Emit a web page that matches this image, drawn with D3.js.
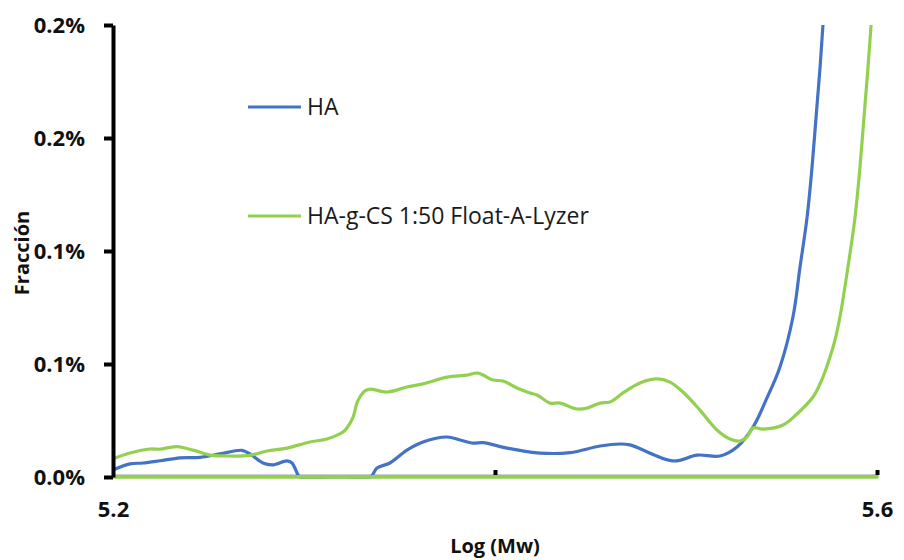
<!DOCTYPE html>
<html>
<head>
<meta charset="utf-8">
<script src="https://cdn.jsdelivr.net/npm/d3@7"></script>
<style>
  html, body { margin: 0; padding: 0; background: #fff; }
  svg { display: block; font-family: "Open Sans", "DejaVu Sans", sans-serif; }
</style>
</head>
<body>
<svg id="chart" width="904" height="560"></svg>
<script>
// Molecular-weight distribution: fraction (%) versus Log(Mw)
const logMwHA = [5.2000, 5.2089, 5.2157, 5.2246, 5.2351, 5.2455, 5.2560, 5.2675, 5.2717, 5.2785,
  5.2838, 5.2911, 5.2937, 5.2969, 5.2979, 5.3346, 5.3382, 5.3450, 5.3539, 5.3623,
  5.3749, 5.3817, 5.3885, 5.3937, 5.4063, 5.4236, 5.4393, 5.4550, 5.4654, 5.4707,
  5.4932, 5.5058, 5.5178, 5.5267, 5.5351, 5.5424, 5.5492, 5.5560, 5.5597, 5.5634,
  5.5660, 5.5681, 5.5702, 5.5717, 5.5730];
const fracHA = [0.0031, 0.0058, 0.0062, 0.0072, 0.0085, 0.0087, 0.0102, 0.0118, 0.0102, 0.0062,
  0.0054, 0.0071, 0.0062, 0.0009, 0.0000, 0.0000, 0.0040, 0.0062, 0.0119, 0.0155,
  0.0177, 0.0164, 0.0150, 0.0152, 0.0128, 0.0106, 0.0108, 0.0137, 0.0146, 0.0142,
  0.0071, 0.0097, 0.0093, 0.0133, 0.0221, 0.0350, 0.0487, 0.0708, 0.0929, 0.1150,
  0.1372, 0.1593, 0.1814, 0.2000, 0.2150];

const logMwCS = [5.2000, 5.2089, 5.2194, 5.2246, 5.2298, 5.2335, 5.2419, 5.2508, 5.2597, 5.2717,
  5.2806, 5.2911, 5.3031, 5.3120, 5.3204, 5.3225, 5.3257, 5.3277, 5.3293, 5.3319,
  5.3346, 5.3435, 5.3539, 5.3623, 5.3749, 5.3853, 5.3911, 5.3990, 5.4042, 5.4115,
  5.4183, 5.4220, 5.4288, 5.4340, 5.4429, 5.4482, 5.4550, 5.4602, 5.4670, 5.4759,
  5.4848, 5.4916, 5.4984, 5.5073, 5.5162, 5.5230, 5.5283, 5.5319, 5.5351, 5.5403,
  5.5508, 5.5581, 5.5665, 5.5717, 5.5754, 5.5780, 5.5806, 5.5848, 5.5885, 5.5911,
  5.5932, 5.5953, 5.5969, 5.5980];
const fracCS = [0.0081, 0.0106, 0.0124, 0.0123, 0.0131, 0.0134, 0.0119, 0.0097, 0.0093, 0.0096,
  0.0115, 0.0128, 0.0155, 0.0168, 0.0199, 0.0217, 0.0265, 0.0327, 0.0354, 0.0381,
  0.0389, 0.0376, 0.0398, 0.0412, 0.0442, 0.0451, 0.0460, 0.0429, 0.0425, 0.0394,
  0.0372, 0.0363, 0.0327, 0.0327, 0.0301, 0.0305, 0.0327, 0.0332, 0.0372, 0.0416,
  0.0434, 0.0420, 0.0376, 0.0296, 0.0208, 0.0168, 0.0159, 0.0177, 0.0217, 0.0212,
  0.0230, 0.0279, 0.0354, 0.0442, 0.0531, 0.0606, 0.0708, 0.0929, 0.1150, 0.1372,
  0.1593, 0.1814, 0.2000, 0.2120];

// zero-valued tail of the HA-g-CS series, running along the whole axis
const logMwCSZero = [5.2, 5.6];
const fracCSZero = [0, 0];

const seriesNames = ["HA", "HA-g-CS 1:50 Float-A-Lyzer"];
const seriesColors = ["#4472C4", "#92D050"];

const yTickValues = [0, 0.05, 0.1, 0.15, 0.2];
const yTickLabels = ["0.0%", "0.1%", "0.1%", "0.2%", "0.2%"];
const xTickValues = [5.2, 5.4, 5.6];
const xTickLabels = ["5.2", "", "5.6"];

const svg = d3.select("#chart");
const plot = { left: 113, right: 877, top: 25, bottom: 477 };

const x = d3.scaleLinear().domain([5.2, 5.6]).range([plot.left, plot.right]);
const y = d3.scaleLinear().domain([0, 0.2]).range([plot.bottom, plot.top]);

svg.append("defs").append("clipPath").attr("id", "plotClip")
  .append("rect")
  .attr("x", plot.left).attr("y", plot.top)
  .attr("width", plot.right - plot.left + 4)
  .attr("height", plot.bottom - plot.top + 1.8);

// x axis (thin line, small tick squares, labels below)
const xAxis = svg.append("g")
  .attr("transform", `translate(0,${y(0) - 2})`)
  .call(d3.axisBottom(x).tickValues(xTickValues).tickSize(0)
    .tickFormat((d, i) => xTickLabels[i]));
xAxis.select(".domain").attr("stroke", "#3a3a3a").attr("stroke-width", 1.6);
xAxis.selectAll(".tick text")
  .attr("dy", 0).attr("y", 42)
  .attr("font-size", 22).attr("font-weight", "bold").attr("fill", "#111")
  .attr("font-family", "Open Sans");
xAxis.selectAll(".tick").filter(d => d > 5.2)
  .append("rect")
  .attr("x", -2).attr("y", -5).attr("width", 4).attr("height", 5)
  .attr("fill", "#000");

// series lines
const line = d3.line()
  .x(d => x(d[0]))
  .y(d => y(d[1]))
  .curve(d3.curveCatmullRom.alpha(0.5));

const seriesData = [
  { pts: d3.zip(logMwHA, fracHA), color: seriesColors[0], width: 3.2 },
  { pts: d3.zip(logMwCS, fracCS), color: seriesColors[1], width: 3.2 },
  { pts: d3.zip(logMwCSZero, fracCSZero), color: seriesColors[1], width: 3.8 }
];

const lines = svg.append("g").attr("clip-path", "url(#plotClip)");
lines.selectAll("path")
  .data(seriesData)
  .join("path")
  .attr("d", d => line(d.pts))
  .attr("fill", "none")
  .attr("stroke", d => d.color)
  .attr("stroke-width", d => d.width)
  .attr("stroke-linejoin", "round")
  .attr("stroke-linecap", "round");

// y axis (thick line, ticks outside)
const yAxis = svg.append("g")
  .attr("transform", `translate(${plot.left},0)`)
  .call(d3.axisLeft(y).tickValues(yTickValues).tickSize(9).tickSizeOuter(0)
    .tickFormat((d, i) => yTickLabels[i]));
yAxis.select(".domain").attr("stroke", "#000").attr("stroke-width", 4);
yAxis.selectAll(".tick line").attr("stroke", "#000").attr("stroke-width", 4);
yAxis.selectAll(".tick text")
  .attr("x", -28)
  .attr("font-size", 22).attr("font-weight", "bold").attr("fill", "#111")
  .attr("font-family", "Open Sans");

// axis titles
svg.append("text")
  .attr("x", (plot.left + plot.right) / 2).attr("y", 553)
  .attr("text-anchor", "middle")
  .attr("font-size", 20).attr("font-weight", "bold").attr("fill", "#111")
  .text("Log (Mw)");

svg.append("text")
  .attr("transform", "translate(29,253) rotate(-90)")
  .attr("text-anchor", "middle")
  .attr("font-size", 20).attr("font-weight", "bold").attr("fill", "#111")
  .text("Fracción");

// legend
const legendY = [107, 216];
const legend = svg.append("g");
seriesNames.forEach((name, i) => {
  legend.append("line")
    .attr("x1", 248).attr("x2", 301)
    .attr("y1", legendY[i]).attr("y2", legendY[i])
    .attr("stroke", seriesColors[i]).attr("stroke-width", 3.2);
  legend.append("text")
    .attr("x", 307).attr("y", legendY[i])
    .attr("dy", "0.35em")
    .attr("font-size", 23).attr("fill", "#1a1a1a")
    .text(name);
});
</script>
</body>
</html>
